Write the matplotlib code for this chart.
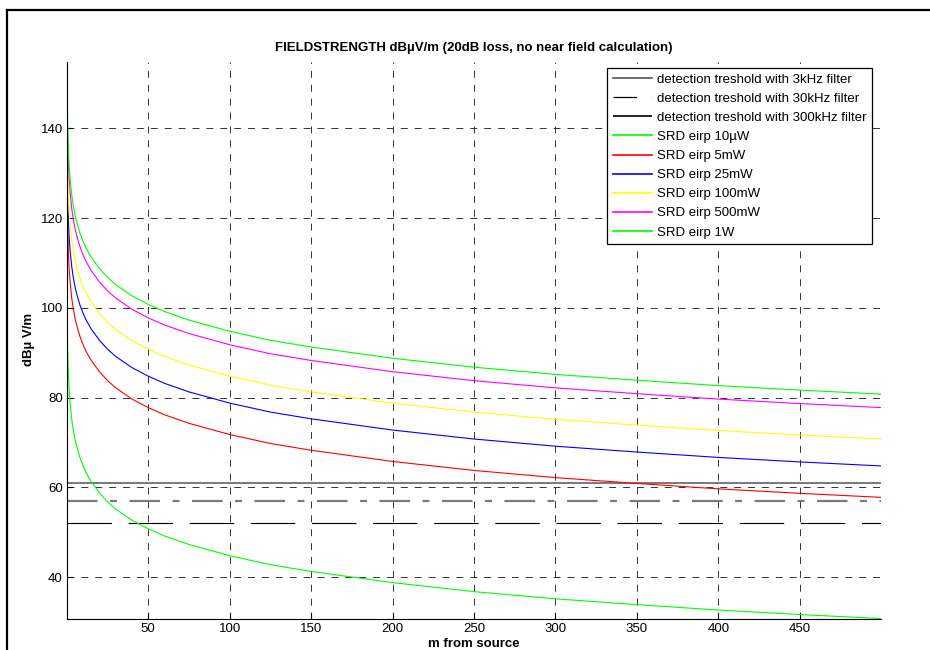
import matplotlib
matplotlib.use("Agg")
import matplotlib.pyplot as plt
from matplotlib.lines import Line2D

plt.rcParams['font.family'] = ['Liberation Sans', 'DejaVu Sans']
plt.rcParams['lines.scale_dashes'] = False

# distance from source in m
dist = [0.1, 0.2, 0.5, 1, 1.5, 2, 3, 4, 5, 6, 8, 10, 12, 15, 20, 25, 30, 40,
        50, 60, 75, 100, 125, 150, 200, 250, 300, 350, 400, 450, 500]

# field strength in dBuV/m
srd_1w = [154.8, 148.8, 140.8, 134.8, 131.3, 128.8, 125.2, 122.7, 120.8, 119.2,
          116.7, 114.8, 113.2, 111.3, 108.8, 106.8, 105.2, 102.7, 100.8, 99.2,
          97.3, 94.8, 92.8, 91.3, 88.8, 86.8, 85.2, 83.9, 82.7, 81.7, 80.8]
srd_500mw = [151.8, 145.8, 137.8, 131.8, 128.3, 125.8, 122.2, 119.7, 117.8, 116.2,
             113.7, 111.8, 110.2, 108.3, 105.8, 103.8, 102.2, 99.7, 97.8, 96.2,
             94.3, 91.8, 89.8, 88.3, 85.8, 83.8, 82.2, 80.9, 79.7, 78.7, 77.8]
srd_100mw = [144.8, 138.8, 130.8, 124.8, 121.3, 118.8, 115.2, 112.7, 110.8, 109.2,
             106.7, 104.8, 103.2, 101.3, 98.8, 96.8, 95.2, 92.7, 90.8, 89.2,
             87.3, 84.8, 82.8, 81.3, 78.8, 76.8, 75.2, 73.9, 72.7, 71.7, 70.8]
srd_25mw = [138.8, 132.8, 124.8, 118.8, 115.3, 112.8, 109.2, 106.7, 104.8, 103.2,
            100.7, 98.8, 97.2, 95.3, 92.8, 90.8, 89.2, 86.7, 84.8, 83.2,
            81.3, 78.8, 76.8, 75.3, 72.8, 70.8, 69.2, 67.9, 66.7, 65.7, 64.8]
srd_5mw = [131.8, 125.8, 117.8, 111.8, 108.3, 105.8, 102.2, 99.7, 97.8, 96.2,
           93.7, 91.8, 90.2, 88.3, 85.8, 83.8, 82.2, 79.7, 77.8, 76.2,
           74.3, 71.8, 69.8, 68.3, 65.8, 63.8, 62.2, 60.9, 59.7, 58.7, 57.8]
srd_10uw = [104.8, 98.8, 90.8, 84.8, 81.3, 78.8, 75.2, 72.7, 70.8, 69.2,
            66.7, 64.8, 63.2, 61.3, 58.8, 56.8, 55.2, 52.7, 50.8, 49.2,
            47.3, 44.8, 42.8, 41.3, 38.8, 36.8, 35.2, 33.9, 32.7, 31.7, 30.8]

# detection thresholds
thr_3k = 61.1
thr_30k = 57.0
thr_300k = 52.0

xticks = [50, 100, 150, 200, 250, 300, 350, 400, 450]
yticks = [40, 60, 80, 100, 120, 140]

fs = 9.5
fig = plt.figure(figsize=(9.3, 6.5), dpi=100)
ax = fig.add_axes([67 / 930, 1 - 619 / 650, (881 - 67) / 930, (619 - 62) / 650])

x0, x1 = dist[0], 499.9
ax.plot([x0, x1], [thr_3k, thr_3k], color='#555555', lw=1.1,
        label='detection treshold with 3kHz filter')
ax.plot([x0, x1], [thr_30k, thr_30k], color='#7a7a7a', lw=1.6,
        linestyle=(0, (22, 9, 5, 9)), label='detection treshold with 30kHz filter')
ax.plot([x0, x1], [thr_300k, thr_300k], color='black', lw=0.8,
        linestyle=(0, (32, 12)), label='detection treshold with 300kHz filter')

ax.plot(dist, srd_10uw, color='#00ff00', lw=0.8, label='SRD eirp 10µW')
ax.plot(dist, srd_5mw, color='#ff0000', lw=0.8, label='SRD eirp 5mW')
ax.plot(dist, srd_25mw, color='#0000ff', lw=0.8, label='SRD eirp 25mW')
ax.plot(dist, srd_100mw, color='#ffff00', lw=0.8, label='SRD eirp 100mW')
ax.plot(dist, srd_500mw, color='#ff00ff', lw=0.8, label='SRD eirp 500mW')
ax.plot(dist, srd_1w, color='#00ff00', lw=0.8, label='SRD eirp 1W')

ax.set_xlim(0.1, 499.9)
ax.set_ylim(30.7, 154.8)
ax.set_xticks(xticks)
ax.set_yticks(yticks)
ax.tick_params(direction='in', length=4, width=0.8, labelsize=fs, pad=3)
ax.grid(True, color='#333333', linestyle=(0, (5, 5)), lw=0.7)
ax.set_axisbelow(True)
for s in ['top', 'right']:
    ax.spines[s].set_visible(False)
for s in ['left', 'bottom']:
    ax.spines[s].set_linewidth(0.8)

ax.set_title('FIELDSTRENGTH dBµV/m (20dB loss, no near field calculation)',
             fontsize=fs, fontweight='bold', pad=8)
fig.text(29 / 930, 1 - 339 / 650, 'dBµ V/m', rotation=90, fontsize=fs,
         fontweight='bold', ha='center', va='center')
fig.text(474 / 930, 1 - 647 / 650, 'm from source', fontsize=fs,
         fontweight='bold', ha='center', va='baseline')

leg = ax.legend(loc='upper right', bbox_to_anchor=(871.7 / 930, 1 - 68.3 / 650),
                bbox_transform=fig.transFigure, borderaxespad=0, fontsize=fs,
                fancybox=False, framealpha=1, edgecolor='black', handlelength=3.0,
                handletextpad=0.35, labelspacing=0.52, borderpad=0.4)
leg.get_frame().set_linewidth(0.9)
for ln in leg.get_lines():
    ln.set_linewidth(1.2)
h30 = leg.get_lines()[1]
h30.set_color('black')
h30.set_linewidth(0.9)
h30.set_linestyle((0, (17, 11, 2, 11)))

# figure frame, cut by the right and bottom image edges
fig.add_artist(Line2D([7 / 930, 1.0], [1 - 10 / 650, 1 - 10 / 650],
                      color='black', lw=1.6, transform=fig.transFigure))
fig.add_artist(Line2D([7 / 930, 7 / 930], [0.0, 1 - 10 / 650],
                      color='black', lw=1.6, transform=fig.transFigure))

fig.savefig('out.png', dpi=100)
